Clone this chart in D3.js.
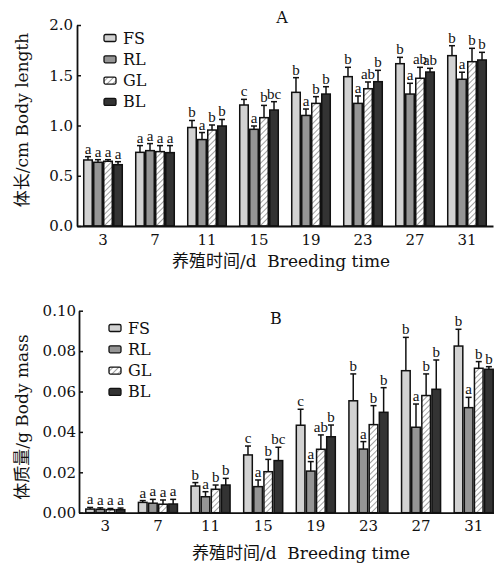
<!DOCTYPE html>
<html>
<head>
<meta charset="utf-8">
<script src="https://cdn.jsdelivr.net/npm/d3@7/dist/d3.min.js"></script>
<style>
  body { margin: 0; background: #fff; }
  text { font-family: "DejaVu Serif", "Noto Sans CJK SC", serif; fill: #111; }
  .sig { font-family: "Liberation Serif", "Times New Roman", serif; }
</style>
</head>
<body>
<div id="chart"></div>
<script>
const days = ["3", "7", "11", "15", "19", "23", "27", "31"];
const groups = ["FS", "RL", "GL", "BL"];

// A: body length (cm), mean and SD
const lengthFS = [0.657, 0.733, 0.98, 1.204, 1.33, 1.486, 1.615, 1.695];
const lengthRL = [0.634, 0.75, 0.86, 0.962, 1.10, 1.22, 1.313, 1.46];
const lengthGL = [0.644, 0.74, 0.955, 1.078, 1.22, 1.366, 1.47, 1.635];
const lengthBL = [0.61, 0.73, 0.995, 1.154, 1.313, 1.436, 1.532, 1.652];
const lengthFSsd = [0.033, 0.067, 0.07, 0.056, 0.146, 0.093, 0.063, 0.099];
const lengthRLsd = [0.026, 0.07, 0.07, 0.033, 0.064, 0.074, 0.107, 0.07];
const lengthGLsd = [0.016, 0.06, 0.05, 0.122, 0.067, 0.067, 0.109, 0.133];
const lengthBLsd = [0.03, 0.07, 0.065, 0.083, 0.073, 0.113, 0.037, 0.076];
const lengthFSsig = ["a", "a", "b", "c", "b", "b", "b", "b"];
const lengthRLsig = ["a", "a", "a", "a", "a", "a", "a", "a"];
const lengthGLsig = ["a", "a", "b", "b", "b", "ab", "ab", "b"];
const lengthBLsig = ["a", "a", "b", "bc", "b", "b", "ab", "b"];

// B: body mass (g), mean and SD
const massFS = [0.0018, 0.0051, 0.0132, 0.0286, 0.0433, 0.0554, 0.0703, 0.0825];
const massRL = [0.0017, 0.0047, 0.0079, 0.0129, 0.0206, 0.0315, 0.0423, 0.052];
const massGL = [0.0015, 0.0042, 0.0116, 0.0203, 0.0314, 0.0436, 0.058, 0.0715];
const massBL = [0.0015, 0.0043, 0.0137, 0.0258, 0.0376, 0.0497, 0.0611, 0.071];
const massFSsd = [0.0008, 0.0009, 0.0017, 0.0044, 0.0079, 0.0133, 0.0165, 0.0083];
const massRLsd = [0.0007, 0.0019, 0.0025, 0.0033, 0.0047, 0.0037, 0.0115, 0.0051];
const massGLsd = [0.0006, 0.0021, 0.0021, 0.0061, 0.0071, 0.0094, 0.0107, 0.0033];
const massBLsd = [0.0008, 0.0023, 0.0033, 0.0066, 0.0058, 0.0122, 0.0145, 0.0013];
const massFSsig = ["a", "a", "b", "c", "c", "b", "b", "b"];
const massRLsig = ["a", "a", "a", "a", "a", "a", "a", "a"];
const massGLsig = ["a", "a", "b", "b", "ab", "b", "b", "b"];
const massBLsig = ["a", "a", "b", "bc", "b", "b", "b", "b"];

const lengthTicks = [0, 0.5, 1.0, 1.5, 2.0];
const massTicks = [0, 0.02, 0.04, 0.06, 0.08, 0.10];

const fills = { FS: "#d2d2d2", RL: "#959595", GL: "url(#hatch)", BL: "#333333" };

const svg = d3.select("#chart").append("svg")
  .attr("width", 494)
  .attr("height", 567);

const defs = svg.append("defs");
const pat = defs.append("pattern")
  .attr("id", "hatch")
  .attr("patternUnits", "userSpaceOnUse")
  .attr("width", 4)
  .attr("height", 4)
  .attr("patternTransform", "rotate(45)");
pat.append("rect").attr("width", 4).attr("height", 4).attr("fill", "#fff");
pat.append("line")
  .attr("x1", 0).attr("y1", 0).attr("x2", 0).attr("y2", 4)
  .attr("stroke", "#888").attr("stroke-width", 1.6);

function buildRows(means, sds, sigs) {
  return days.map((d, i) => groups.map((g, j) => ({
    day: d, group: g, mean: means[j][i], sd: sds[j][i], sig: sigs[j][i]
  })));
}

function drawPanel(cfg) {
  const x = d3.scaleBand().domain(days).range(cfg.xRange)
    .paddingInner(0.23).paddingOuter(0.115);
  const xg = d3.scaleBand().domain(groups).range([0, x.bandwidth()]).padding(0);
  const y = d3.scaleLinear().domain(cfg.yDomain).range(cfg.yRange);

  const g = svg.append("g");
  const rows = cfg.rows.flat();

  const bars = g.selectAll(".bar").data(rows).enter().append("g")
    .attr("transform", d => `translate(${x(d.day) + xg(d.group)},0)`);

  // error bars (upper only)
  bars.append("line")
    .attr("x1", xg.bandwidth() / 2).attr("x2", xg.bandwidth() / 2)
    .attr("y1", d => y(d.mean)).attr("y2", d => y(d.mean + d.sd))
    .attr("stroke", "#111").attr("stroke-width", 1.5);
  bars.append("line")
    .attr("x1", xg.bandwidth() / 2 - 3).attr("x2", xg.bandwidth() / 2 + 3)
    .attr("y1", d => y(d.mean + d.sd)).attr("y2", d => y(d.mean + d.sd))
    .attr("stroke", "#111").attr("stroke-width", 1.5);

  bars.append("rect")
    .attr("x", 0.75)
    .attr("width", xg.bandwidth() - 1.5)
    .attr("y", d => y(d.mean))
    .attr("height", d => y(0) - y(d.mean))
    .attr("fill", d => fills[d.group])
    .attr("stroke", "#111")
    .attr("stroke-width", 1.5);

  bars.append("text")
    .attr("class", "sig")
    .attr("x", xg.bandwidth() / 2)
    .attr("y", d => y(d.mean + d.sd) - 3)
    .attr("text-anchor", "middle")
    .style("font-size", "15px")
    .text(d => d.sig);

  // axes
  const yAxis = g.append("g")
    .attr("transform", `translate(${cfg.xRange[0]},0)`)
    .call(d3.axisLeft(y).tickValues(cfg.ticks).tickFormat(cfg.fmt)
      .tickSizeInner(-4).tickSizeOuter(0).tickPadding(cfg.tickPad));
  yAxis.selectAll("text").style("font-size", "15px").attr("fill", "#111");

  const xAxis = g.append("g")
    .attr("transform", `translate(0,${y(0)})`)
    .call(d3.axisBottom(x).tickSize(0).tickSizeOuter(0).tickPadding(8));
  xAxis.selectAll("text").style("font-size", "15px").attr("fill", "#111");
  g.selectAll(".domain").attr("stroke", "#111").attr("stroke-width", 1.8);
  g.selectAll(".tick line").attr("stroke", "#111").attr("stroke-width", 1.5);

  // titles
  g.append("text")
    .attr("x", cfg.letterPos[0]).attr("y", cfg.letterPos[1])
    .attr("text-anchor", "middle")
    .style("font-size", "16px")
    .text(cfg.letter);

  g.append("text")
    .attr("transform", `translate(${cfg.yTitlePos[0]},${cfg.yTitlePos[1]}) rotate(-90)`)
    .attr("text-anchor", "middle")
    .attr("dominant-baseline", "central")
    .style("font-size", "17px")
    .text(cfg.yTitle);

  g.append("text")
    .attr("x", cfg.xTitlePos[0]).attr("y", cfg.xTitlePos[1])
    .attr("text-anchor", "middle")
    .attr("dominant-baseline", "central")
    .style("font-size", "17px")
    .style("white-space", "pre")
    .text("养殖时间/d  Breeding time");

  // legend
  const legend = g.selectAll(".legend").data(groups).enter().append("g")
    .attr("transform", (d, i) => `translate(${cfg.legendPos[0]},${cfg.legendPos[1] + i * 21.3})`);
  legend.append("rect")
    .attr("x", 0).attr("y", -3.5)
    .attr("width", 12).attr("height", 7).attr("rx", 1.5)
    .attr("fill", d => fills[d])
    .attr("stroke", "#111").attr("stroke-width", 1.3);
  legend.append("text")
    .attr("x", 19).attr("y", 0)
    .attr("dominant-baseline", "central")
    .style("font-size", "16px")
    .text(d => d);
}

drawPanel({
  rows: buildRows([lengthFS, lengthRL, lengthGL, lengthBL],
    [lengthFSsd, lengthRLsd, lengthGLsd, lengthBLsd],
    [lengthFSsig, lengthRLsig, lengthGLsig, lengthBLsig]),
  xRange: [77, 493], yDomain: [0, 2], yRange: [226, 25],
  ticks: lengthTicks, fmt: d3.format(".1f"), tickPad: 4,
  letter: "A", letterPos: [282, 23],
  yTitle: "体长/cm Body length", yTitlePos: [22, 120],
  xTitlePos: [281, 261],
  legendPos: [104, 38]
});

drawPanel({
  rows: buildRows([massFS, massRL, massGL, massBL],
    [massFSsd, massRLsd, massGLsd, massBLsd],
    [massFSsig, massRLsig, massGLsig, massBLsig]),
  xRange: [79, 500], yDomain: [0, 0.1], yRange: [512.7, 310.7],
  ticks: massTicks, fmt: d3.format(".2f"), tickPad: 3,
  letter: "B", letterPos: [276, 324],
  yTitle: "体质量/g Body mass", yTitlePos: [22, 417],
  xTitlePos: [301, 553],
  legendPos: [109, 328]
});
</script>
</body>
</html>
